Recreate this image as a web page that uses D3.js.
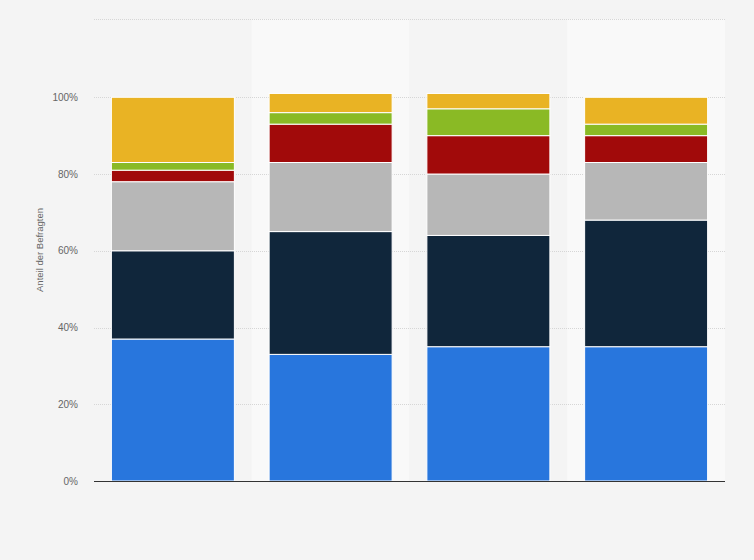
<!DOCTYPE html>
<html>
<head>
<meta charset="utf-8">
<script src="https://cdn.jsdelivr.net/npm/d3@7"></script>
<style>
  html, body { margin: 0; padding: 0; background: #f4f4f4; }
  svg { display: block; font-family: Roboto, "Open Sans", Arial, sans-serif; }
</style>
</head>
<body>
<svg id="chart" width="754" height="560"></svg>
<script>
// Data
const categories = ["A", "B", "C", "D"];
const seriesNames = ["S1", "S2", "S3", "S4", "S5", "S6"];
const seriesColors = ["#2876dd", "#10263b", "#b7b7b7", "#a10a0a", "#8aba25", "#e9b324"];
const s1 = [37, 33, 35, 35];
const s2 = [23, 32, 29, 33];
const s3 = [18, 18, 16, 15];
const s4 = [3, 10, 10, 7];
const s5 = [2, 3, 7, 3];
const s6 = [17, 5, 4, 7];
const yTicks = [0, 20, 40, 60, 80, 100];
const yMax = 120.4;
const yTitle = "Anteil der Befragten";

const seriesValues = [s1, s2, s3, s4, s5, s6];
const table = categories.map((c, i) => {
  const row = { cat: c };
  seriesNames.forEach((s, j) => row[s] = seriesValues[j][i]);
  return row;
});

const svg = d3.select("#chart");
const margin = { left: 94, right: 29, top: 19, bottom: 79 };
const W = 754, H = 560;

const x = d3.scaleBand().domain(categories).range([margin.left, W - margin.right]).paddingInner(0).paddingOuter(0);
const y = d3.scaleLinear().domain([0, yMax]).range([H - margin.bottom, margin.top]);

// alternating bands
svg.append("g").selectAll("rect").data(categories).join("rect")
  .attr("x", d => x(d)).attr("y", margin.top)
  .attr("width", x.bandwidth()).attr("height", y(0) - margin.top)
  .attr("fill", (d, i) => i % 2 === 1 ? "#f9f9f9" : "#f4f4f4");

// grid
svg.append("g").selectAll("line").data(yTicks.filter(t => t > 0).concat([yMax])).join("line")
  .attr("x1", margin.left).attr("x2", W - margin.right)
  .attr("y1", d => Math.round(y(d)) + 0.5).attr("y2", d => Math.round(y(d)) + 0.5)
  .attr("stroke", "#d6d6d6").attr("stroke-width", 1).attr("stroke-dasharray", "1,1");

// y-axis labels
const yAxis = d3.axisLeft(y).tickValues(yTicks).tickFormat(d => d + "%").tickSize(0).tickPadding(0);
const gy = svg.append("g").attr("transform", `translate(${margin.left - 16},0)`).call(yAxis);
gy.select(".domain").remove();
gy.selectAll("text").attr("fill", "#666").attr("font-size", 10)
  .attr("font-family", "'Liberation Sans', Arial, sans-serif");

// stacks
const stack = d3.stack().keys(seriesNames)(table);
const barW = 123;
const off = (x.bandwidth() - barW) / 2;
svg.append("g").selectAll("g").data(stack).join("g")
  .attr("fill", (d, i) => seriesColors[i])
  .selectAll("rect").data(d => d).join("rect")
  .attr("x", d => x(d.data.cat) + off)
  .attr("y", d => y(d[1]))
  .attr("width", barW)
  .attr("height", d => y(d[0]) - y(d[1]))
  .attr("stroke", "#ffffff").attr("stroke-width", 1);

// x-axis baseline
svg.append("line")
  .attr("x1", margin.left).attr("x2", W - margin.right)
  .attr("y1", y(0) + 0.5).attr("y2", y(0) + 0.5)
  .attr("stroke", "#333").attr("stroke-width", 1);

// y-title
svg.append("text")
  .attr("transform", `translate(43,${(y(0) + y(yMax)) / 2}) rotate(-90)`)
  .attr("text-anchor", "middle")
  .attr("fill", "#666").attr("font-size", 9.5)
  .attr("font-family", "'Liberation Sans', Arial, sans-serif")
  .text(yTitle);
</script>
</body>
</html>
